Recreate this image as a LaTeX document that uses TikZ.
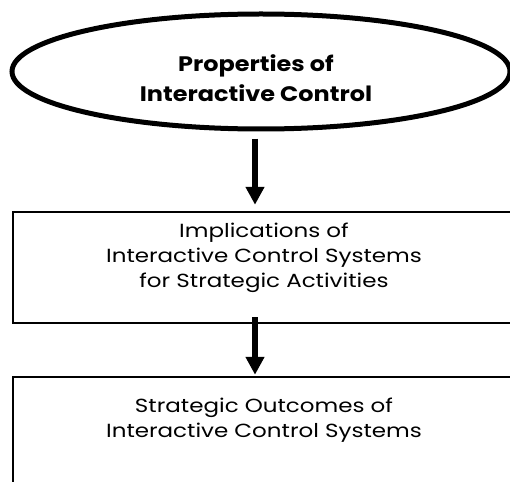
\documentclass[tikz,border=0pt]{standalone}
\usepackage{fontspec}
\setmainfont{Poppins}
\newfontfamily\ovalfont{Poppins}[FakeStretch=1.14]
\newfontfamily\boxfont{Poppins}[FakeStretch=1.21]
\usetikzlibrary{shapes.geometric,arrows.meta}

\begin{document}
\begin{tikzpicture}[
    x=1pt, y=-1pt,
    propsshape/.style={ellipse, draw, line width=5pt, minimum width=498pt, minimum height=115pt},
    stagebox/.style={rectangle, draw, line width=2.5pt, minimum width=498pt},
    boldtext/.style={align=center, font={\ovalfont\fontsize{21}{30}\selectfont\bfseries}},
    plaintext/.style={align=center, font={\boxfont\fontsize{19}{25}\selectfont}},
    flowarrow/.style={line width=6.5pt, -{Triangle[width=18pt,length=18pt]}}
  ]
  \useasboundingbox (0,0) rectangle (510,481);
  \clip (0,0) rectangle (510,481);
      \node[propsshape] (props) at (261,71.5) {};
      \node[boldtext] (propstext) at (256,78) {Properties of\\Interactive Control};
      \node[stagebox, minimum height=111pt] (impl) at (262,267.5) {};
      \node[plaintext] (impltext) at (264,258) {Implications of\\Interactive Control Systems\\for Strategic Activities};
      \node[stagebox, minimum height=150pt] (outc) at (262,452) {};
      \node[plaintext] (outctext) at (264,420.5) {Strategic Outcomes of\\Interactive Control Systems};
      \draw[flowarrow, shorten <=7pt, shorten >=6pt] ([xshift=-6pt]props.south) to ([xshift=-7pt]impl.north);
      \draw[flowarrow, shorten <=-7pt, shorten >=1pt] ([xshift=-7pt]impl.south) to ([xshift=-7pt]outc.north);
    \end{tikzpicture}
\end{document}
